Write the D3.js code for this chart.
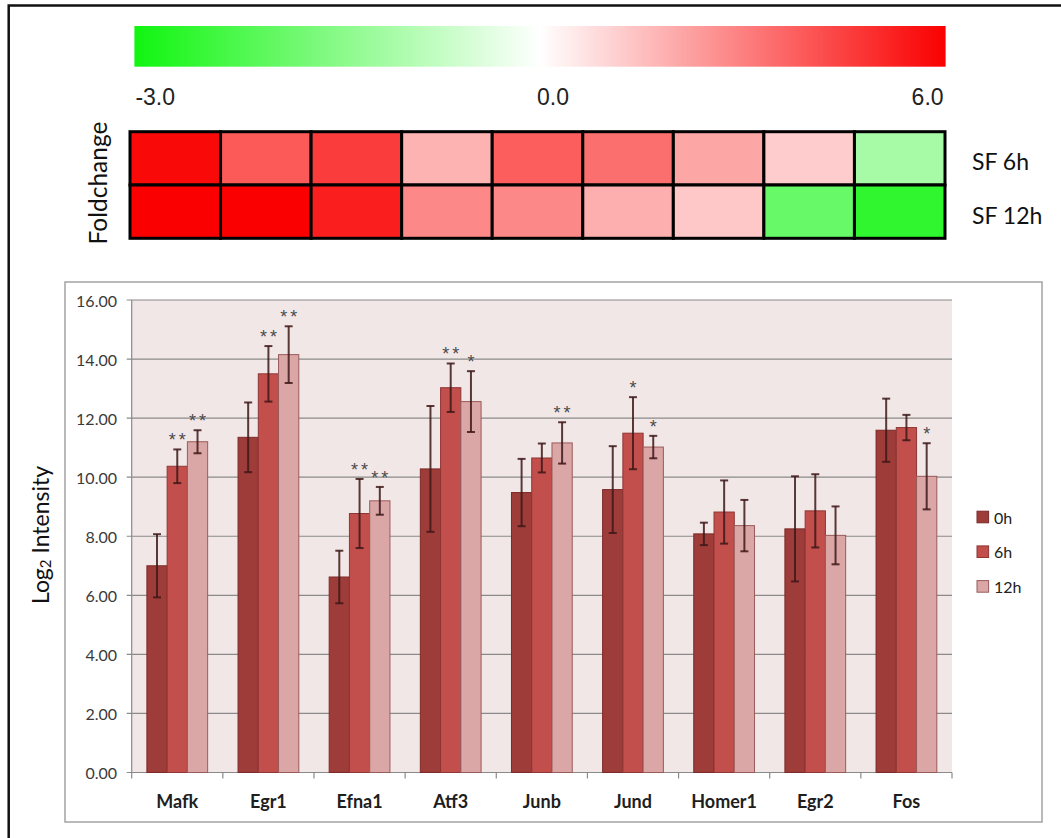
<!DOCTYPE html>
<html>
<head>
<meta charset="utf-8">
<script src="https://cdn.jsdelivr.net/npm/d3@7"></script>
<style>
  body { margin: 0; background: #ffffff; }
  svg { display: block; }
</style>
</head>
<body>
<svg id="chart" width="1061" height="838"></svg>
<script>
// ---- data ----
const genes = ["Mafk", "Egr1", "Efna1", "Atf3", "Junb", "Jund", "Homer1", "Egr2", "Fos"];
const timepoints = ["0h", "6h", "12h"];

// mean log2 intensity per gene at each time point
const mean0h  = [7.00, 11.35, 6.62, 10.28, 9.48, 9.58, 8.08, 8.25, 11.59];
const mean6h  = [10.37, 13.50, 8.77, 13.03, 10.65, 11.49, 8.82, 8.86, 11.68];
const mean12h = [11.20, 14.15, 9.20, 12.56, 11.16, 11.02, 8.36, 8.03, 10.03];

// standard deviations
const err0h  = [1.07, 1.18, 0.89, 2.13, 1.14, 1.47, 0.38, 1.78, 1.07];
const err6h  = [0.57, 0.94, 1.17, 0.82, 0.49, 1.22, 1.07, 1.24, 0.43];
const err12h = [0.39, 0.96, 0.47, 1.03, 0.70, 0.38, 0.87, 0.98, 1.12];

// significance marks versus 0h
const sig0h  = ["", "", "", "", "", "", "", "", ""];
const sig6h  = ["**", "**", "**", "**", "", "*", "", "", ""];
const sig12h = ["**", "**", "**", "*", "**", "*", "", "", "*"];

const yTicks = [0, 2, 4, 6, 8, 10, 12, 14, 16];

// log2 fold change heatmap rows
const foldRows = ["SF 6h", "SF 12h"];
const fold6h  = [5.8, 3.9, 4.6, 1.8, 3.8, 3.4, 2.1, 1.2, -1.1];
const fold12h = [6.0, 6.0, 5.3, 2.8, 2.8, 1.9, 1.3, -1.9, -2.6];
const foldTicks = [-3, 0, 6];

// ---- assemble records ----
const means = [mean0h, mean6h, mean12h];
const errs = [err0h, err6h, err12h];
const sigs = [sig0h, sig6h, sig12h];
const bars = [];
genes.forEach((g, i) => {
  timepoints.forEach((t, k) => {
    bars.push({ gene: g, time: t, value: means[k][i], err: errs[k][i], sig: sigs[k][i] });
  });
});
const foldValues = [fold6h, fold12h];
const cells = [];
foldRows.forEach((r, j) => genes.forEach((g, i) => cells.push({ row: r, gene: g, value: foldValues[j][i] })));

const svg = d3.select("#chart");
const FONT = "Lato, 'Open Sans', 'DejaVu Sans', sans-serif";
const plainFormat = d3.formatLocale({ decimal: ".", thousands: ",", grouping: [3], currency: ["", ""], minus: "-" });

// ---- outer frame (left and top edges) ----
svg.append("path")
  .attr("d", "M8.7,838 L8.7,5.5 L1061,5.5")
  .attr("fill", "none").attr("stroke", "#111").attr("stroke-width", 2.5);

// ---- colour key ----
const foldColor = d3.scaleLinear().domain([-3, 0, 6]).range(["#10f510", "#ffffff", "#fa0000"]);
const keyX = d3.scaleLinear().domain([-3, 0, 6]).range([134.4, 540, 945.6]);
const defs = svg.append("defs");
const grad = defs.append("linearGradient").attr("id", "foldGrad")
  .attr("x1", "0%").attr("x2", "100%").attr("y1", "0%").attr("y2", "0%");
d3.range(-3, 6.01, 0.25).forEach(v => {
  grad.append("stop")
    .attr("offset", ((keyX(v) - keyX(-3)) / (keyX(6) - keyX(-3)) * 100) + "%")
    .attr("stop-color", foldColor(v));
});
svg.append("rect")
  .attr("x", keyX(-3)).attr("y", 26)
  .attr("width", keyX(6) - keyX(-3)).attr("height", 40.7)
  .attr("fill", "url(#foldGrad)");

const keyAnchor = ["start", "middle", "end"];
const keyDx = [1, 13, -2];
svg.append("g").selectAll("text").data(foldTicks).join("text")
  .attr("x", (d, i) => keyX(d) + keyDx[i])
  .attr("y", 104.5)
  .attr("text-anchor", (d, i) => keyAnchor[i])
  .attr("font-family", "'Liberation Sans', Arial, sans-serif")
  .attr("font-size", 23)
  .attr("fill", "#222")
  .text(d => plainFormat.format(".1f")(d));

// ---- heatmap ----
const hx = d3.scaleBand().domain(genes).range([130, 945]);
const hy = d3.scaleBand().domain(foldRows).range([131.7, 238.3]);
svg.append("g").selectAll("rect").data(cells).join("rect")
  .attr("x", d => hx(d.gene)).attr("y", d => hy(d.row))
  .attr("width", hx.bandwidth()).attr("height", hy.bandwidth())
  .attr("fill", d => foldColor(d.value))
  .attr("stroke", "#000").attr("stroke-width", 3);

svg.append("g").selectAll("text").data(foldRows).join("text")
  .attr("x", 972)
  .attr("y", d => hy(d) + hy.bandwidth() / 2 + 3)
  .attr("dominant-baseline", "central")
  .attr("font-family", FONT).attr("font-size", 23)
  .attr("fill", "#111")
  .text(d => d);

svg.append("text")
  .attr("transform", "translate(97,183) rotate(-90)")
  .attr("text-anchor", "middle").attr("dominant-baseline", "central")
  .attr("font-family", FONT).attr("font-size", 24.5).attr("fill", "#111")
  .text("Foldchange");

// ---- bar chart ----
svg.append("rect")
  .attr("x", 65).attr("y", 282).attr("width", 977).attr("height", 540)
  .attr("fill", "#fff").attr("stroke", "#a3a3a3").attr("stroke-width", 1.5);

const x = d3.scaleBand().domain(genes).range([131.7, 952]);
const xs = d3.scaleBand().domain(timepoints).range([0, x.bandwidth()]).paddingOuter(0.75);
const y = d3.scaleLinear().domain([0, 16]).range([772.5, 300]);

svg.append("rect")
  .attr("x", x.range()[0]).attr("y", y(16))
  .attr("width", x.range()[1] - x.range()[0]).attr("height", y(0) - y(16))
  .attr("fill", "#f2e7e7");

// gridlines
svg.append("g").selectAll("line").data(yTicks).join("line")
  .attr("x1", x.range()[0] - 5).attr("x2", x.range()[1])
  .attr("y1", d => y(d)).attr("y2", d => y(d))
  .attr("stroke", "#8a8a8a").attr("stroke-width", 1.2);

// y-axis tick labels
svg.append("g").selectAll("text").data(yTicks).join("text")
  .attr("x", 117).attr("y", d => y(d))
  .attr("text-anchor", "end").attr("dominant-baseline", "central")
  .attr("font-family", FONT).attr("font-size", 16).attr("fill", "#3a3a3a")
  .text(d => d3.format(".2f")(d));

// y axis line
svg.append("line")
  .attr("x1", x.range()[0]).attr("x2", x.range()[0])
  .attr("y1", y(16)).attr("y2", y(0))
  .attr("stroke", "#8a8a8a").attr("stroke-width", 1.2);

// category boundary ticks
const bounds = genes.map(g => x(g)).concat([x.range()[1]]);
svg.append("g").selectAll("line").data(bounds).join("line")
  .attr("x1", d => d).attr("x2", d => d)
  .attr("y1", y(0)).attr("y2", y(0) + 6)
  .attr("stroke", "#8a8a8a").attr("stroke-width", 1.2);

const fillFor = { "0h": "#9e3c3a", "6h": "#c24f4c", "12h": "#dba6a6" };
const strokeFor = { "0h": "#7c2a28", "6h": "#8e3634", "12h": "#9a5a5a" };

svg.append("g").selectAll("rect").data(bars).join("rect")
  .attr("x", d => x(d.gene) + xs(d.time))
  .attr("y", d => y(d.value))
  .attr("width", xs.bandwidth())
  .attr("height", d => y(0) - y(d.value))
  .attr("fill", d => fillFor[d.time])
  .attr("stroke", d => strokeFor[d.time]).attr("stroke-width", 1);

// error bars
const eb = svg.append("g").attr("stroke", "#3d1818").attr("stroke-width", 2).attr("stroke-opacity", 0.85);
const cx = d => x(d.gene) + xs(d.time) + xs.bandwidth() / 2;
eb.selectAll("line.v").data(bars).join("line").attr("class", "v")
  .attr("x1", cx).attr("x2", cx)
  .attr("y1", d => y(d.value + d.err)).attr("y2", d => y(d.value - d.err));
eb.selectAll("line.t").data(bars).join("line").attr("class", "t")
  .attr("x1", d => cx(d) - 4).attr("x2", d => cx(d) + 4)
  .attr("y1", d => y(d.value + d.err)).attr("y2", d => y(d.value + d.err));
eb.selectAll("line.b").data(bars).join("line").attr("class", "b")
  .attr("x1", d => cx(d) - 4).attr("x2", d => cx(d) + 4)
  .attr("y1", d => y(d.value - d.err)).attr("y2", d => y(d.value - d.err));

// significance marks
svg.append("g").selectAll("text").data(bars.filter(d => d.sig)).join("text")
  .attr("x", d => cx(d) + 1.5)
  .attr("y", d => y(d.value + d.err) - 3)
  .attr("text-anchor", "middle")
  .attr("font-family", "'Liberation Sans', Arial, sans-serif").attr("font-size", 18)
  .attr("letter-spacing", 3)
  .attr("fill", "#4a4a4a")
  .text(d => d.sig);

// category labels
svg.append("g").selectAll("text").data(genes).join("text")
  .attr("x", d => x(d) + x.bandwidth() / 2).attr("y", 801)
  .attr("text-anchor", "middle").attr("dominant-baseline", "central")
  .attr("font-family", FONT).attr("font-weight", "bold").attr("font-size", 18)
  .attr("fill", "#1e1e1e")
  .text(d => d);

// y-axis title
const yt = svg.append("text")
  .attr("transform", "translate(40,535) rotate(-90)")
  .attr("text-anchor", "middle").attr("dominant-baseline", "central")
  .attr("font-family", FONT).attr("font-size", 23).attr("fill", "#111");
yt.append("tspan").text("Log");
yt.append("tspan").attr("font-size", 15).attr("dy", 5).text("2");
yt.append("tspan").attr("dy", -5).text(" Intensity");

// legend
const lg = svg.append("g").selectAll("g").data(timepoints).join("g")
  .attr("transform", (d, i) => `translate(977,${517 + i * 34.7})`);
lg.append("rect")
  .attr("x", 0).attr("y", -5.8).attr("width", 11.6).attr("height", 11.6)
  .attr("fill", d => fillFor[d]).attr("stroke", d => strokeFor[d]).attr("stroke-width", 1);
lg.append("text")
  .attr("x", 17).attr("y", 0).attr("dominant-baseline", "central")
  .attr("font-family", FONT).attr("font-size", 16).attr("fill", "#222")
  .text(d => d);
</script>
</body>
</html>
